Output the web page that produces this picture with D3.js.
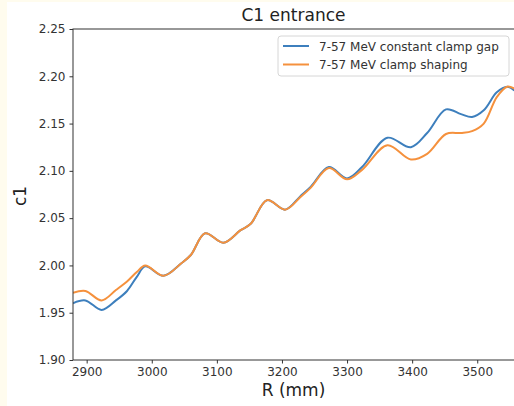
<html>
<head>
<title>C1 entrance</title>
<script src="https://d3js.org/d3.v7.min.js"></script>
<style>
body { margin: 0; background: #fffcee; }
text { font-family: "DejaVu Sans", sans-serif; }
</style>
</head>
<body>
<script>
// radius in mm
var radius = [2879, 2898, 2923, 2945, 2962, 2977, 2990, 3018, 3045, 3060, 3082, 3110,
  3136, 3152, 3177, 3205, 3228, 3244, 3272, 3300, 3323, 3362, 3398, 3423, 3452,
  3475, 3492, 3510, 3530, 3546, 3557];

var constantGap = [1.960, 1.963, 1.953, 1.963, 1.973, 1.988, 1.999, 1.989, 2.002, 2.011,
  2.034, 2.024, 2.037, 2.044, 2.069, 2.059, 2.073, 2.083, 2.104, 2.092, 2.104, 2.135,
  2.125, 2.140, 2.165, 2.160, 2.157, 2.164, 2.183, 2.189, 2.185];

var clampShaping = [1.971, 1.973, 1.963, 1.974, 1.983, 1.993, 2.000, 1.989, 2.002, 2.011,
  2.034, 2.024, 2.037, 2.044, 2.069, 2.059, 2.072, 2.082, 2.103, 2.091, 2.101, 2.127,
  2.112, 2.118, 2.139, 2.140, 2.142, 2.150, 2.178, 2.189, 2.187];

var seriesNames = ["7-57 MeV constant clamp gap", "7-57 MeV clamp shaping"];
var colors = ["#3d7fbd", "#f5913d"];
var xTicks = [2900, 3000, 3100, 3200, 3300, 3400, 3500];
var yTicks = [1.90, 1.95, 2.00, 2.05, 2.10, 2.15, 2.20, 2.25];

var width = 514, height = 406;
var m = { left: 73, top: 29, right: 515, bottom: 360 };

var svg = d3.select("body").append("svg")
  .attr("width", width).attr("height", height);

svg.append("rect").attr("x", 7).attr("y", 2)
  .attr("width", width - 7).attr("height", height - 2).attr("fill", "#fff");

var x = d3.scaleLinear().domain([2879, 3558]).range([m.left, m.right]);
var y = d3.scaleLinear().domain([1.90, 2.25]).range([m.bottom, m.top]);

svg.append("clipPath").attr("id", "plot")
  .append("rect").attr("x", m.left).attr("y", m.top)
  .attr("width", m.right - m.left).attr("height", m.bottom - m.top);

var line = d3.line()
  .x(function(d) { return x(d[0]); })
  .y(function(d) { return y(d[1]); })
  .curve(d3.curveCatmullRom.alpha(0.5));

[constantGap, clampShaping].forEach(function(vals, i) {
  svg.append("path")
    .datum(radius.map(function(r, j) { return [r, vals[j]]; }))
    .attr("clip-path", "url(#plot)")
    .attr("fill", "none")
    .attr("stroke", colors[i])
    .attr("stroke-width", 2)
    .attr("d", line);
});

// spines
svg.append("rect").attr("x", m.left).attr("y", m.top)
  .attr("width", m.right - m.left).attr("height", m.bottom - m.top)
  .attr("fill", "none").attr("stroke", "#333").attr("stroke-width", 1);

var xAxis = svg.append("g").attr("transform", "translate(0," + m.bottom + ")")
  .call(d3.axisBottom(x).tickValues(xTicks).tickSize(3.5).tickPadding(4).tickFormat(d3.format("d")));
var yAxis = svg.append("g").attr("transform", "translate(" + m.left + ",0)")
  .call(d3.axisLeft(y).tickValues(yTicks).tickSize(3.5).tickPadding(4).tickFormat(d3.format(".2f")));

[xAxis, yAxis].forEach(function(a) {
  a.select(".domain").remove();
  a.selectAll("line").attr("stroke", "#333");
  a.selectAll("text").attr("font-size", 12).attr("fill", "#333")
    .attr("font-family", "DejaVu Sans, sans-serif");
});

// title and labels
var cx = (m.left + 514) / 2;
svg.append("text").attr("x", cx).attr("y", 21).attr("text-anchor", "middle")
  .attr("font-size", 17).attr("fill", "#222").text("C1 entrance");
svg.append("text").attr("x", cx).attr("y", 396).attr("text-anchor", "middle")
  .attr("font-size", 17).attr("fill", "#222").text("R (mm)");
svg.append("text").attr("transform", "translate(26,196) rotate(-90)")
  .attr("text-anchor", "middle")
  .attr("font-size", 17).attr("fill", "#222").text("c1");

// legend
var lg = svg.append("g");
lg.append("rect").attr("x", 278).attr("y", 36).attr("width", 231).attr("height", 40)
  .attr("rx", 3).attr("fill", "#fff").attr("fill-opacity", 0.8)
  .attr("stroke", "#d6d6d6");
seriesNames.forEach(function(name, i) {
  var ly = 46 + i * 18.5;
  lg.append("line").attr("x1", 283).attr("x2", 309).attr("y1", ly).attr("y2", ly)
    .attr("stroke", colors[i]).attr("stroke-width", 2);
  lg.append("text").attr("x", 319).attr("y", ly + 4.5)
    .attr("font-size", 12).attr("fill", "#333").text(name);
});
</script>
</body>
</html>
